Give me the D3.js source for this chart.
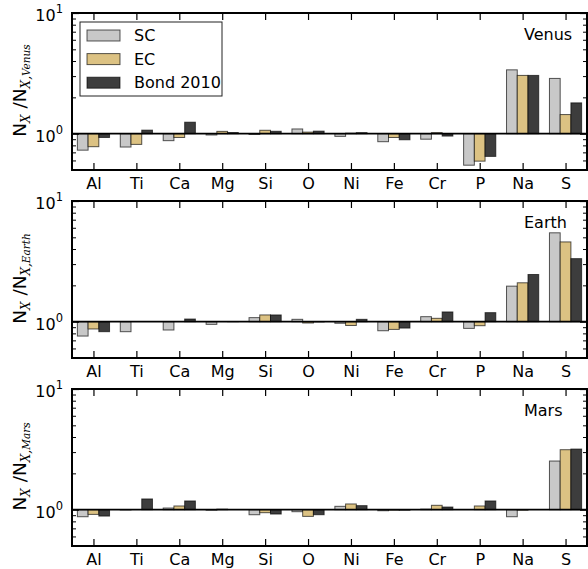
<!DOCTYPE html>
<html>
<head>
<meta charset="utf-8">
<script src="https://cdn.jsdelivr.net/npm/d3@7"></script>
<style>
  html, body { margin: 0; padding: 0; background: #fff; }
  svg { display: block; font-family: "DejaVu Sans", sans-serif; }
</style>
</head>
<body>
<svg id="chart" width="588" height="569"></svg>
<script>
const elements = ["Al","Ti","Ca","Mg","Si","O","Ni","Fe","Cr","P","Na","S"];
const seriesNames = ["SC","EC","Bond 2010"];
const seriesColors = ["#c8c8c8", "#dcc283", "#3d3d3d"];
const planets = ["Venus","Earth","Mars"];

const venusSC   = [0.73, 0.775, 0.875, 0.975, 0.985, 1.094, 0.95, 0.858, 0.90, 0.548, 3.38, 2.87];
const venusEC   = [0.78, 0.815, 0.93, 1.045, 1.067, 1.03, 1.01, 0.93, 1.02, 0.592, 3.04, 1.44];
const venusBond = [0.93, 1.07, 1.245, 1.022, 1.047, 1.05, 1.02, 0.89, 0.955, 0.648, 3.04, 1.80];

const earthSC   = [0.76, 0.826, 0.853, 0.95, 1.08, 1.046, 0.97, 0.841, 1.10, 0.88, 1.97, 5.45];
const earthEC   = [0.87, 1.0, 1.0, 1.0, 1.137, 0.975, 0.93, 0.863, 1.066, 0.926, 2.10, 4.58];
const earthBond = [0.826, 1.0, 1.052, 1.003, 1.137, 0.995, 1.046, 0.885, 1.204, 1.188, 2.46, 3.33];

const marsSC    = [0.874, 0.995, 1.032, 0.99, 0.908, 0.962, 1.066, 0.98, 1.01, 1.0, 0.874, 2.53];
const marsEC    = [0.914, 1.0, 1.073, 1.01, 0.944, 0.88, 1.115, 0.99, 1.087, 1.073, 0.99, 3.14];
const marsBond  = [0.885, 1.227, 1.181, 1.0, 0.92, 0.908, 1.08, 0.99, 1.052, 1.181, 1.0, 3.18];

const panelData = [
  [venusSC, venusEC, venusBond],
  [earthSC, earthEC, earthBond],
  [marsSC, marsEC, marsBond]
];

const yMajor = [1, 10];
const yMinor = [0.5, 0.6, 0.7, 0.8, 0.9, 2, 3, 4, 5, 6, 7, 8, 9];

const svg = d3.select("#chart");
const left = 72, right = 587, panelH = 157;
const tops = [13, 201, 389];

const x = d3.scaleLinear().domain([-0.5, elements.length - 0.5]).range([left, right]);
const step = x(1) - x(0);
const bw = step * 0.25;

planets.forEach((planet, p) => {
  const top = tops[p], bottom = top + panelH;
  const y = d3.scaleLog().domain([0.5, 10]).range([bottom, top]);
  const g = svg.append("g");

  // bars
  panelData[p].forEach((vals, s) => {
    g.selectAll(null).data(vals).enter().append("rect")
      .attr("x", (d, i) => x(i) - 1.5 * bw + s * bw)
      .attr("width", bw)
      .attr("y", d => Math.min(y(d), y(1)))
      .attr("height", d => Math.abs(y(d) - y(1)))
      .attr("fill", seriesColors[s])
      .attr("stroke", "#000")
      .attr("stroke-opacity", 0.65)
      .attr("stroke-width", 1);
  });

  // horizontal line at 1
  g.append("line")
    .attr("x1", left).attr("x2", right)
    .attr("y1", y(1)).attr("y2", y(1))
    .attr("stroke", "#000").attr("stroke-width", 1.8);

  // x axes (inward ticks)
  const xb = g.append("g").attr("transform", `translate(0,${bottom})`)
    .call(d3.axisBottom(x).tickValues(d3.range(elements.length))
      .tickFormat(i => elements[i]).tickSizeInner(-7).tickSizeOuter(0).tickPadding(8));
  xb.select(".domain").remove();
  xb.selectAll("text").attr("font-size", 16).attr("font-family", "DejaVu Sans").attr("fill", "#000");
  xb.selectAll("line").attr("stroke-width", 1.2);

  const xt = g.append("g").attr("transform", `translate(0,${top})`)
    .call(d3.axisTop(x).tickValues(d3.range(elements.length))
      .tickFormat("").tickSizeInner(-7).tickSizeOuter(0));
  xt.select(".domain").remove();
  xt.selectAll("line").attr("stroke-width", 1.2);

  // y axes
  [[d3.axisLeft, left], [d3.axisRight, right]].forEach(([ax, xpos]) => {
    const gm = g.append("g").attr("transform", `translate(${xpos},0)`)
      .call(ax(y).tickValues(yMajor).tickFormat("").tickSizeInner(-7).tickSizeOuter(0));
    gm.select(".domain").remove();
    gm.selectAll("line").attr("stroke-width", 1.2);
    const gn = g.append("g").attr("transform", `translate(${xpos},0)`)
      .call(ax(y).tickValues(yMinor).tickFormat("").tickSizeInner(-4).tickSizeOuter(0));
    gn.select(".domain").remove();
    gn.selectAll("line").attr("stroke-width", 1);
  });

  // y tick labels with superscripts
  yMajor.forEach(v => {
    const t = g.append("text")
      .attr("x", left - 9).attr("y", y(v) + 8)
      .attr("text-anchor", "end").attr("font-size", 16).attr("fill", "#000");
    t.append("tspan").text("10");
    t.append("tspan").attr("dy", -8).attr("font-size", 11.5).text(String(Math.round(Math.log10(v))));
  });

  // frame
  g.append("rect")
    .attr("x", left).attr("y", top)
    .attr("width", right - left).attr("height", panelH)
    .attr("fill", "none").attr("stroke", "#000").attr("stroke-width", 2);

  // panel title
  g.append("text").attr("x", 524).attr("y", top + 27)
    .attr("font-size", 16).attr("fill", "#000").text(planet);

  // y label
  const cy = top + panelH / 2 - 1;
  const lbl = g.append("text")
    .attr("transform", `translate(26,${cy}) rotate(-90)`)
    .attr("text-anchor", "middle").attr("font-size", 18.5).attr("fill", "#000");
  lbl.append("tspan").text("N");
  lbl.append("tspan").attr("dy", 4).attr("font-size", 12)
    .attr("font-family", "DejaVu Serif").attr("font-style", "italic").text("X");
  lbl.append("tspan").attr("dy", -4).text(" /N");
  lbl.append("tspan").attr("dy", 4).attr("font-size", 12)
    .attr("font-family", "DejaVu Serif").attr("font-style", "italic").text("X,");
  lbl.append("tspan").attr("font-size", 10.5)
    .attr("font-family", "DejaVu Serif").attr("font-style", "italic").text(planet);

  // legend in first panel
  if (p === 0) {
    const lg = g.append("g");
    lg.append("rect").attr("x", 80).attr("y", 22).attr("width", 142).attr("height", 74)
      .attr("fill", "#fff").attr("stroke", "#222").attr("stroke-width", 1);
    seriesNames.forEach((name, s) => {
      const yy = 30 + s * 23.6;
      lg.append("rect").attr("x", 87).attr("y", yy).attr("width", 33).attr("height", 11)
        .attr("fill", seriesColors[s]).attr("stroke", "#000").attr("stroke-opacity", 0.65).attr("stroke-width", 1);
      lg.append("text").attr("x", 134).attr("y", yy + 11).attr("font-size", 16).attr("fill", "#000").text(name);
    });
  }
});
</script>
</body>
</html>
